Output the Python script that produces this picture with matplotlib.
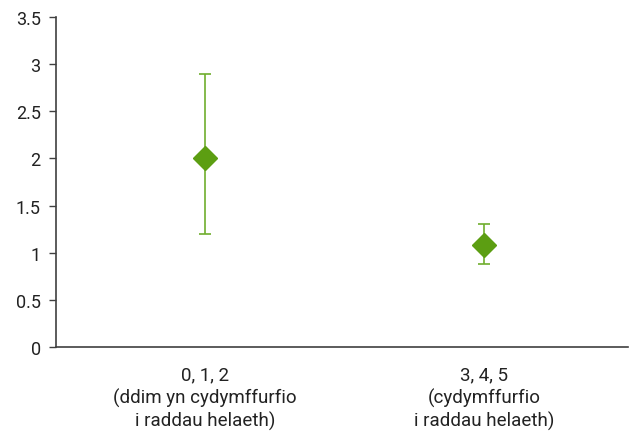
import matplotlib
matplotlib.use("Agg")
import matplotlib.pyplot as plt

categories = ["0, 1, 2\n(ddim yn cydymffurfio\ni raddau helaeth)",
              "3, 4, 5\n(cydymffurfio\ni raddau helaeth)"]
values = [2.0, 1.08]
lower = [1.2, 0.88]
upper = [2.9, 1.30]
yticks = [0, 0.5, 1, 1.5, 2, 2.5, 3, 3.5]
ytick_labels = ["0", "0.5", "1", "1.5", "2", "2.5", "3", "3.5"]

plt.rcParams['font.family'] = ['Roboto', 'DejaVu Sans']

fig = plt.figure(figsize=(6.29, 4.35), dpi=100)
ax = fig.add_axes([0.089, 0.2, 0.909, 0.7586])

x = list(range(len(categories)))
err_lo = [v - l for v, l in zip(values, lower)]
err_hi = [u - v for v, u in zip(values, upper)]
ax.errorbar(x, values, yerr=[err_lo, err_hi], fmt='none', ecolor='#6fae2e',
            elinewidth=1.2, capsize=4.5, capthick=1.2, zorder=2)
ax.plot(x, values, linestyle='none', marker='D', markersize=12,
        color='#5c9e12', markeredgecolor='#5c9e12', zorder=3)

ax.set_xlim(-0.535, 1.515)
ax.set_ylim(0, 3.5)
ax.set_xticks(x)
ax.set_xticklabels(categories, fontsize=13.5, color='#222222', linespacing=1.3)
ax.set_yticks(yticks)
ax.set_yticklabels(ytick_labels, fontsize=13, color='#222222')
ax.tick_params(axis='x', length=0, pad=13)
ax.tick_params(axis='y', length=5, width=1, color='#404040', pad=6)
for s in ['top', 'right']:
    ax.spines[s].set_visible(False)
for s in ['left', 'bottom']:
    ax.spines[s].set_color('#404040')
    ax.spines[s].set_linewidth(1.2)

fig.savefig("out.png", dpi=100)
